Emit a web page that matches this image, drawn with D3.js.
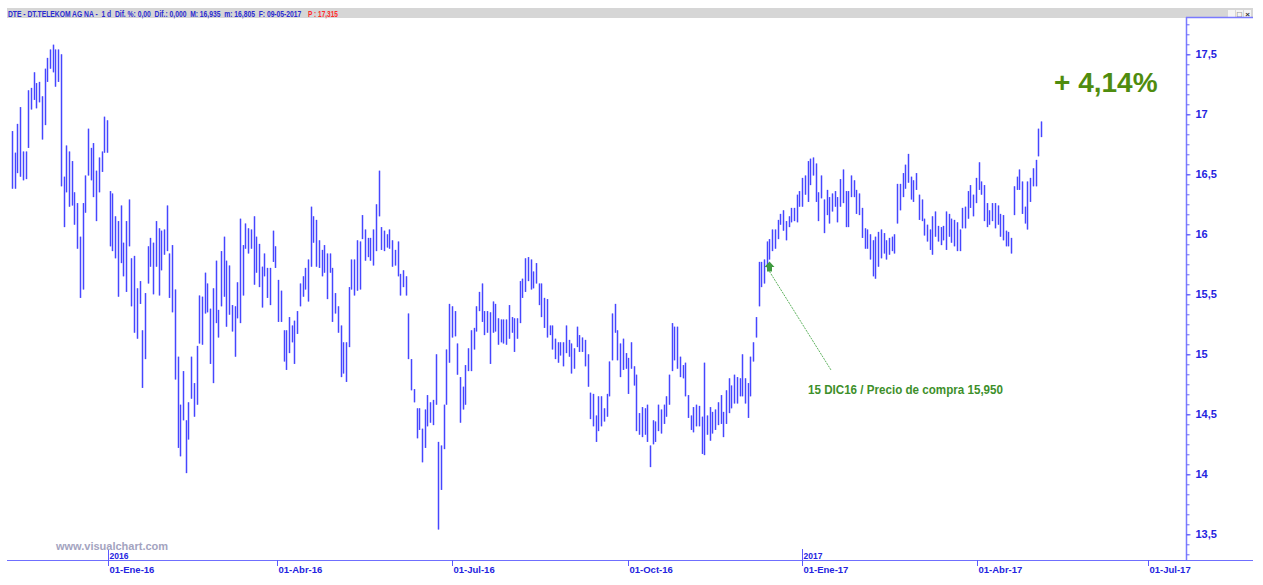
<!DOCTYPE html>
<html>
<head>
<meta charset="utf-8">
<script src="https://cdn.jsdelivr.net/npm/d3@7"></script>
<style>
  html, body { margin: 0; padding: 0; background: #fff; overflow: hidden; }
  svg { display: block; font-family: "Liberation Sans", Arial, sans-serif; }
</style>
</head>
<body>
<div id="chart"></div>
<script>
"use strict";

// daily highs / lows, DTE from nov-2015 to 09-05-2017
const highs = [
  16.86, 16.68, 16.92, 17.06, 16.69, 16.69, 17.20, 17.22, 17.35, 17.26,
  17.27, 17.15, 17.38, 17.47, 17.54, 17.58, 17.54, 17.54, 17.50, 16.48,
  16.74, 16.69, 16.61, 16.35, 16.26, 15.98, 16.26, 16.49, 16.88, 16.72,
  16.76, 16.53, 16.64, 16.69, 16.98, 16.95, 16.36, 16.34, 16.15, 16.11,
  16.24, 15.93, 16.11, 16.29, 15.80, 15.82, 15.55, 15.61, 15.20, 15.51,
  15.90, 15.97, 15.93, 16.11, 16.05, 16.03, 16.04, 16.24, 15.84, 15.91,
  15.54, 14.98, 14.58, 14.86, 14.45, 14.60, 14.98, 14.76, 15.07, 15.49,
  15.48, 15.68, 15.59, 15.38, 15.55, 15.78, 15.37, 15.86, 15.98, 15.78,
  15.74, 15.41, 15.40, 15.60, 16.13, 15.91, 16.09, 16.05, 16.04, 16.15,
  15.98, 15.92, 15.73, 15.84, 15.72, 15.72, 16.03, 15.90, 15.62, 15.53,
  15.20, 15.20, 15.31, 15.24, 15.28, 15.36, 15.59, 15.65, 15.72, 15.79,
  16.23, 16.15, 16.12, 15.95, 15.87, 15.91, 15.84, 15.84, 15.72, 15.51,
  15.40, 15.24, 15.10, 15.10, 15.56, 15.79, 15.79, 15.95, 15.94, 16.16,
  16.04, 15.97, 15.97, 16.04, 16.25, 16.53, 16.06, 16.03, 16.00, 16.04,
  15.95, 15.87, 15.94, 15.67, 15.70, 15.65, 15.34, 14.96, 14.71, 14.55,
  14.55, 14.38, 14.54, 14.66, 14.60, 14.62, 15.00, 14.27, 14.24, 14.58,
  15.04, 15.42, 15.40, 15.36, 15.09, 14.81, 14.73, 14.91, 15.05, 15.20,
  15.22, 15.40, 15.52, 15.59, 15.36, 15.36, 15.35, 15.44, 15.42, 15.30,
  15.29, 15.29, 15.29, 15.41, 15.31, 15.30, 15.30, 15.61, 15.63, 15.80,
  15.81, 15.79, 15.69, 15.76, 15.59, 15.59, 15.47, 15.46, 15.24, 15.24,
  15.13, 15.10, 15.10, 15.10, 15.24, 15.12, 15.09, 15.05, 15.23, 15.16,
  15.14, 15.12, 15.00, 14.68, 14.67, 14.49, 14.65, 14.65, 14.55, 14.67,
  14.94, 15.34, 15.42, 15.20, 15.09, 15.13, 15.01, 14.97, 15.10, 14.90,
  14.83, 14.51, 14.56, 14.55, 14.58, 14.24, 14.45, 14.44, 14.58, 14.54,
  14.58, 14.65, 14.83, 15.26, 15.23, 15.23, 14.98, 14.91, 14.93, 14.66,
  14.49, 14.56, 14.58, 14.57, 14.48, 14.93, 14.49, 14.56, 14.52, 14.54,
  14.60, 14.66, 14.52, 14.70, 14.80, 14.74, 14.83, 14.81, 14.80, 15.00,
  14.80, 14.76, 14.98, 15.10, 15.31, 15.77, 15.77, 15.79, 15.94, 15.96,
  16.04, 16.04, 16.12, 16.17, 16.20, 16.11, 16.15, 16.22, 16.22, 16.33,
  16.36, 16.47, 16.49, 16.61, 16.63, 16.64, 16.59, 16.35, 16.49, 16.29,
  16.37, 16.31, 16.34, 16.36, 16.31, 16.46, 16.54, 16.36, 16.36, 16.49,
  16.45, 16.37, 16.34, 16.22, 16.05, 16.04, 16.00, 15.95, 15.98, 16.02,
  16.04, 16.01, 15.95, 15.97, 15.98, 16.00, 16.42, 16.42, 16.51, 16.58,
  16.67, 16.48, 16.45, 16.51, 16.33, 16.29, 16.13, 16.08, 16.04, 16.15,
  16.19, 16.07, 16.06, 16.07, 16.19, 16.17, 16.13, 16.12, 16.10, 16.04,
  16.22, 16.23, 16.36, 16.41, 16.33, 16.47, 16.60, 16.44, 16.41, 16.26,
  16.20, 16.26, 16.26, 16.24, 16.17, 16.16, 16.03, 16.02, 15.97, 16.40,
  16.48, 16.54, 16.44, 16.23, 16.44, 16.47, 16.55, 16.62, 16.88, 16.94
];
const lows = [
  16.38, 16.38, 16.51, 16.48, 16.45, 16.46, 16.72, 17.04, 17.12, 17.05,
  17.10, 16.79, 16.91, 17.27, 17.38, 17.35, 17.23, 17.27, 16.40, 16.06,
  16.35, 16.23, 16.24, 16.08, 15.88, 15.47, 15.54, 16.18, 16.49, 16.45,
  16.31, 16.11, 16.35, 16.52, 16.68, 16.68, 15.90, 15.86, 15.80, 15.48,
  15.76, 15.65, 15.52, 15.90, 15.40, 15.18, 15.13, 15.42, 14.72, 14.96,
  15.59, 15.73, 15.50, 15.73, 15.49, 15.70, 15.83, 15.86, 15.47, 15.35,
  14.79, 14.22, 14.15, 14.45, 14.01, 14.29, 14.63, 14.48, 14.58, 15.09,
  15.08, 15.34, 15.35, 14.92, 14.76, 15.26, 15.14, 15.40, 15.48, 15.23,
  15.33, 15.19, 14.98, 15.30, 15.26, 15.49, 15.88, 15.84, 15.88, 15.58,
  15.68, 15.56, 15.39, 15.65, 15.47, 15.41, 15.77, 15.72, 15.27, 15.27,
  14.94, 14.87, 15.01, 15.10, 14.92, 15.17, 15.40, 15.48, 15.54, 15.44,
  15.73, 15.93, 15.73, 15.72, 15.65, 15.68, 15.46, 15.68, 15.27, 15.34,
  15.18, 14.81, 14.84, 14.77, 15.06, 15.54, 15.49, 15.53, 15.54, 15.96,
  15.78, 15.81, 15.78, 15.74, 15.86, 16.15, 15.87, 15.86, 15.89, 15.88,
  15.73, 15.74, 15.65, 15.49, 15.56, 15.49, 14.96, 14.70, 14.60, 14.30,
  14.37, 14.10, 14.22, 14.40, 14.43, 14.41, 14.58, 13.54, 13.87, 14.21,
  14.58, 14.93, 15.14, 15.15, 14.83, 14.43, 14.54, 14.58, 14.86, 14.86,
  15.04, 15.19, 15.36, 15.27, 15.16, 15.18, 14.92, 15.18, 15.19, 15.08,
  15.10, 15.09, 15.08, 15.13, 15.18, 15.02, 15.13, 15.26, 15.47, 15.52,
  15.61, 15.54, 15.55, 15.59, 15.41, 15.31, 15.22, 15.14, 15.16, 15.04,
  14.96, 14.93, 14.99, 14.90, 15.01, 14.98, 14.84, 14.88, 15.06, 15.02,
  15.02, 14.90, 14.73, 14.46, 14.40, 14.27, 14.36, 14.40, 14.44, 14.48,
  14.65, 14.95, 15.18, 14.95, 14.81, 14.87, 14.88, 14.67, 14.88, 14.74,
  14.36, 14.33, 14.31, 14.33, 14.27, 14.06, 14.25, 14.27, 14.36, 14.34,
  14.42, 14.48, 14.58, 14.86, 14.95, 14.88, 14.81, 14.80, 14.65, 14.47,
  14.37, 14.35, 14.40, 14.40, 14.17, 14.16, 14.33, 14.28, 14.34, 14.37,
  14.41, 14.42, 14.31, 14.42, 14.51, 14.55, 14.59, 14.59, 14.65, 14.65,
  14.59, 14.47, 14.65, 14.94, 15.14, 15.40, 15.56, 15.59, 15.72, 15.79,
  15.86, 15.88, 15.96, 16.08, 16.03, 15.95, 16.06, 16.10, 16.11, 16.10,
  16.23, 16.23, 16.33, 16.27, 16.41, 16.49, 16.27, 16.11, 16.30, 16.01,
  16.16, 16.09, 16.19, 16.23, 16.10, 16.23, 16.26, 16.06, 16.06, 16.31,
  16.31, 16.17, 16.16, 15.97, 15.88, 15.88, 15.79, 15.65, 15.63, 15.73,
  15.80, 15.84, 15.79, 15.83, 15.86, 15.84, 16.09, 16.20, 16.31, 16.38,
  16.43, 16.29, 16.27, 16.37, 16.12, 16.11, 15.99, 15.94, 15.87, 15.83,
  15.98, 15.94, 15.91, 15.95, 15.87, 15.98, 15.93, 15.90, 15.86, 15.86,
  16.05, 16.05, 16.13, 16.22, 16.15, 16.26, 16.37, 16.33, 16.11, 16.06,
  16.08, 16.11, 16.05, 16.08, 15.98, 15.95, 15.90, 15.90, 15.84, 16.16,
  16.37, 16.37, 16.17, 16.09, 16.04, 16.27, 16.40, 16.40, 16.65, 16.81
];

// price axis labels
const priceTicks = [13.5, 14, 14.5, 15, 15.5, 16, 16.5, 17, 17.5];

// date axis: label and the bar index where the quarter begins
const dateLabels = ["01-Ene-16", "01-Abr-16", "01-Jul-16", "01-Oct-16", "01-Ene-17", "01-Abr-17", "01-Jul-17"];
const dateBars = [35.5, 97.7, 162, 226.9, 291, 355.4, 418.4];
const yearLabels = ["2016", "2017"];
const yearBars = [35.5, 291];

// buy note
const buyBar = 279;
const buyText = "15 DIC16 / Precio de compra 15,950";
const gainText = "+ 4,14%";

const headerText = "DTE - DT.TELEKOM AG NA -  1 d  Dif. %: 0,00  Dif.: 0,000  M: 16,935  m: 16,805  F: 09-05-2017";
const headerPrice = "P : 17,315";

const W = 1263, H = 585;
const axisX = 1186, axisY = 560;
const blue = "#2424e0";

const svg = d3.select("#chart").append("svg")
  .attr("width", W)
  .attr("height", H);

const x = d3.scaleLinear()
  .domain([0, highs.length - 1])
  .range([12, 1041]);

const y = d3.scaleLinear()
  .domain([13.5, 17.5])
  .range([534.3, 54.3]);

// header strip
svg.append("rect")
  .attr("x", 7).attr("y", 8)
  .attr("width", 1246).attr("height", 10)
  .attr("fill", "#d6d6d6");

// squeeze a text horizontally so it fills a given width
function fitText(txt, left, width, color) {
  const t = svg.append("text")
    .attr("font-size", 9)
    .attr("font-weight", "bold")
    .attr("fill", color)
    .attr("xml:space", "preserve")
    .text(txt);
  const natural = t.node().getComputedTextLength();
  t.attr("transform", "translate(" + left + ",16.5) scale(" + (width / natural) + ",1)");
}
fitText(headerText, 8, 294, "#2b2bd0");
fitText(headerPrice, 308, 30, "#ff2a2a");

// window buttons
const btn = svg.append("g").attr("transform", "translate(1228,10)");
["_", "\u25a1", "\u00d7"].forEach(function (s, i) {
  btn.append("rect")
    .attr("x", i * 8).attr("y", 0)
    .attr("width", 7).attr("height", 7)
    .attr("fill", "#f4f4f4");
  btn.append("text")
    .attr("x", i * 8 + 3.5).attr("y", 6.5)
    .attr("text-anchor", "middle")
    .attr("font-size", 8)
    .attr("font-weight", "bold")
    .attr("fill", "#333")
    .text(s);
});

// frame lines
svg.append("line")
  .attr("x1", axisX).attr("x2", 1253)
  .attr("y1", 17.5).attr("y2", 17.5)
  .attr("stroke", "#7a7aff").attr("stroke-width", 1.5);

svg.append("line")
  .attr("x1", 7).attr("x2", 1253)
  .attr("y1", axisY + 0.5).attr("y2", axisY + 0.5)
  .attr("stroke", "#6f6fff").attr("stroke-width", 1.2);

svg.append("line")
  .attr("x1", axisX + 0.5).attr("x2", axisX + 0.5)
  .attr("y1", 17).attr("y2", axisY)
  .attr("stroke", "#7a7aff").attr("stroke-width", 1.5);

// price axis: minor ticks then labelled ticks
const minorTicks = d3.range(-2, 52).map(function (k) { return 13.5 + k / 12; })
  .filter(function (v) { return y(v) > 20 && y(v) < axisY - 2; });

svg.append("g")
  .attr("transform", "translate(" + (axisX + 0.5) + ",0)")
  .call(d3.axisRight(y).tickValues(minorTicks).tickSize(3).tickFormat(""))
  .call(function (g) { g.select(".domain").remove(); })
  .call(function (g) { g.selectAll("line").attr("stroke", "#6a6aff"); });

const yAxis = svg.append("g")
  .attr("transform", "translate(" + (axisX + 0.5) + ",0)")
  .call(d3.axisRight(y)
    .tickValues(priceTicks)
    .tickSize(4)
    .tickPadding(5)
    .tickFormat(function (d) { return String(d).replace(".", ","); }));
yAxis.select(".domain").remove();
yAxis.selectAll("line").attr("stroke", "#5a5aff");
yAxis.selectAll("text")
  .attr("font-family", "Liberation Sans, Arial, sans-serif")
  .attr("font-size", 11)
  .attr("font-weight", "bold")
  .attr("fill", blue);

// date axis
const dateG = svg.append("g");
dateLabels.forEach(function (lab, i) {
  const px = Math.round(x(dateBars[i])) + 0.5;
  dateG.append("line")
    .attr("x1", px).attr("x2", px)
    .attr("y1", axisY).attr("y2", axisY + 6)
    .attr("stroke", "#5a5aff");
  dateG.append("text")
    .attr("x", px + 1).attr("y", axisY + 13)
    .attr("font-size", 9.5)
    .attr("font-weight", "bold")
    .attr("fill", blue)
    .text(lab);
});

// watermark
svg.append("text")
  .attr("x", 56).attr("y", 550)
  .attr("font-size", 11)
  .attr("font-weight", "bold")
  .attr("fill", "#a3a3c0")
  .text("www.visualchart.com");

yearLabels.forEach(function (lab, i) {
  const px = Math.round(x(yearBars[i])) + 0.5;
  dateG.append("line")
    .attr("x1", px).attr("x2", px)
    .attr("y1", axisY - 11).attr("y2", axisY)
    .attr("stroke", "#5a5aff");
  dateG.append("text")
    .attr("x", px + 1).attr("y", axisY - 1.5)
    .attr("font-size", 8.5)
    .attr("font-weight", "bold")
    .attr("fill", blue)
    .text(lab);
});

// price bars
const bars = svg.append("g");
bars.selectAll("rect.halo")
  .data(highs)
  .enter()
  .append("rect")
  .attr("class", "halo")
  .attr("x", function (d, i) { return Math.round(x(i)) - 0.5; })
  .attr("y", function (d) { return y(d); })
  .attr("width", 2)
  .attr("height", function (d, i) { return Math.max(1, y(lows[i]) - y(d)); })
  .attr("fill", "#a3a3ff");

bars.selectAll("rect.core")
  .data(highs)
  .enter()
  .append("rect")
  .attr("class", "core")
  .attr("x", function (d, i) { return Math.round(x(i)); })
  .attr("y", function (d) { return y(d); })
  .attr("width", 1)
  .attr("height", function (d, i) { return Math.max(1, y(lows[i]) - y(d)); })
  .attr("fill", "#4646ff");

// buy annotation
const green = "#3d8f2a";
const ax = Math.round(x(buyBar)) + 0.5;
const ay = y(lows[buyBar]) + 2;

svg.append("line")
  .attr("x1", ax).attr("y1", ay + 10)
  .attr("x2", 831).attr("y2", 370)
  .attr("stroke", "#5fb35f")
  .attr("stroke-width", 1)
  .attr("stroke-dasharray", "2,1");

svg.append("path")
  .attr("d", "M" + ax + "," + ay +
    " l5,5.5 l-2.5,0 l0,4.5 l-5,0 l0,-4.5 l-2.5,0 Z")
  .attr("fill", "#3f9a3f");

svg.append("text")
  .attr("x", 808).attr("y", 394)
  .attr("font-size", 12)
  .attr("font-weight", "bold")
  .attr("fill", green)
  .attr("textLength", 195)
  .attr("lengthAdjust", "spacingAndGlyphs")
  .text(buyText);

svg.append("text")
  .attr("x", 1054).attr("y", 92)
  .attr("font-size", 28)
  .attr("font-weight", "bold")
  .attr("fill", "#4f8c0f")
  .text(gainText);
</script>
</body>
</html>
